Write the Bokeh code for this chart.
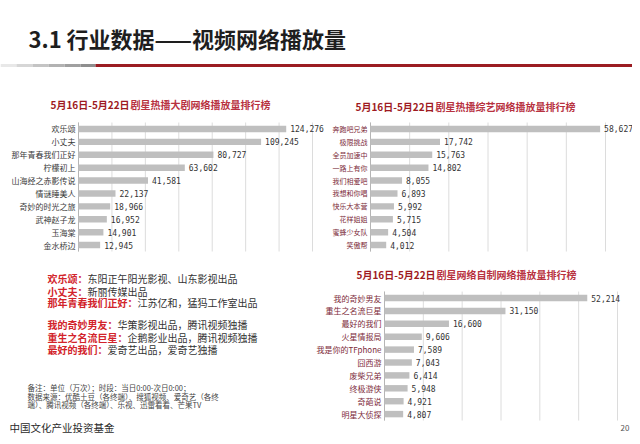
from bokeh.plotting import figure
from bokeh.models import Range1d
from bokeh.embed import file_html
from bokeh.resources import INLINE
from bokeh.core.properties import value

CJK = "Noto Sans CJK SC"
MONO = "DejaVu Sans Mono"

page_title = "3.1 行业数据——视频网络播放量"
period = "5月16日-5月22日 "

drama_title = "剧星热播大剧网络播放量排行榜"
drama_names = ["欢乐颂", "小丈夫", "那年青春我们正好", "柠檬初上", "山海经之赤影传说",
               "情谜睡美人", "奇妙的时光之旅", "武神赵子龙", "玉海棠", "金水桥边"]
drama_views = [124276, 109245, 80727, 63602, 41581, 22137, 18966, 16952, 14901, 12945]

variety_title = "剧星热播综艺网络播放量排行榜"
variety_names = ["奔跑吧兄弟", "极限挑战", "全员加速中", "一路上有你", "我们相爱吧",
                 "我想和你唱", "快乐大本营", "花样姐姐", "蜜蜂少女队", "笑傲帮"]
variety_views = [58627, 17742, 15763, 14802, 8055, 6893, 5992, 5715, 4504, 4012]

web_title = "剧星网络自制网络播放量排行榜"
web_names = ["我的奇妙男友", "重生之名流巨星", "最好的我们", "火星情报局", "我是你的TFphone",
             "囧西游", "废柴兄弟", "终极游侠", "奇葩说", "明星大侦探"]
web_views = [52214, 31150, 16600, 9606, 7589, 7043, 6414, 5948, 4921, 4807]

producer_shows = ["欢乐颂：", "小丈夫：", "那年青春我们正好：", "我的奇妙男友：", "重生之名流巨星：", "最好的我们："]
producer_texts = ["东阳正午阳光影视、山东影视出品", "新丽传媒出品", "江苏亿和，猛犸工作室出品",
                  "华策影视出品，腾讯视频独播", "企鹅影业出品，腾讯视频独播", "爱奇艺出品，爱奇艺独播"]

notes = ["备注：单位（万次）；时段：当日0:00-次日0:00；",
         "数据来源：优酷土豆（各终端）、搜狐视频、爱奇艺（各终",
         "端）、腾讯视频（各终端）、乐视、迅雷看看、芒果TV"]
footer_org = "中国文化产业投资基金"
page_no = "20"

W, H = 632, 436

p = figure(width=W, height=H, x_range=Range1d(0, W), y_range=Range1d(H, 0),
           output_backend="svg", toolbar_location=None,
           x_axis_location=None, y_axis_location=None, min_border=0)
p.title.visible = False
p.outline_line_color = None
p.grid.visible = False
p.background_fill_color = "white"
p.border_fill_color = "white"

# ---- header ----
p.text(x=[28], y=[37], text=[page_title], text_font=value(CJK), text_font_style="bold",
       text_font_size="22px", text_color="#1E1E1E", text_baseline="middle")
grays = ["#E8E8E8", "#D6D6D6", "#C4C4C4", "#B2B2B2", "#A0A0A0", "#8E8E8E"]
gx = [0, 16, 32, 48, 64, 80, 95]
p.quad(left=gx[:-1], right=gx[1:], top=63.5, bottom=66.5, color=grays, line_color=None)
p.quad(left=[95], right=[W], top=63.5, bottom=66.5, color="#9B1C22", line_color=None)

xr, yr = {}, {}


def chart(key, names, views, xmax, step, fx0, fw, fy0, row_h,
          label_color, label_size, title_text, title_x, title_y):
    n = len(names)
    xr[key + "x"] = Range1d(-fx0 / fw * xmax, (W - fx0) / fw * xmax)
    yr[key + "y"] = Range1d((H - fy0) / row_h, -fy0 / row_h)
    kw = dict(x_range_name=key + "x", y_range_name=key + "y")
    idx = list(range(n))
    ticks = list(range(0, xmax + 1, step))
    p.segment(x0=ticks, x1=ticks, y0=-0.5, y1=n - 0.5, line_color="#DCDCDC", line_width=1, **kw)
    p.segment(x0=[0], x1=[0], y0=-0.5, y1=n - 0.5, line_color="#B5B5B5", line_width=1, **kw)
    p.hbar(y=idx, left=0, right=views, height=0.5, fill_color="#BFBFBF", line_color=None, **kw)
    p.text(x=[0] * n, y=idx, text=names, x_offset=-3, text_align="right", text_baseline="middle",
           text_font=value(CJK), text_font_size=f"{label_size}px", text_color=label_color, **kw)
    p.text(x=views, y=idx, text=[f"{v:,}" for v in views], x_offset=4, text_baseline="middle",
           text_font=value(MONO), text_font_size="8px", text_color="#333333", **kw)
    p.text(x=[title_x], y=[title_y], text=[period], text_font=value(CJK), text_font_style="bold",
           text_font_size="10px", text_color="#9E1A22", text_baseline="middle")
    p.text(x=[title_x + 80], y=[title_y], text=[title_text], text_font=value(CJK),
           text_font_style="bold", text_font_size="10px", text_color="#B8323F",
           text_baseline="middle")


chart("c1", drama_names, drama_views, 140000, 20000, 78, 234, 128.45, 12.9,
      "#3A3A3A", 8, drama_title, 50, 104)
chart("c2", variety_names, variety_views, 60000, 10000, 370, 235, 128.45, 12.9,
      "#7D2B3A", 7, variety_title, 355, 106)
chart("c3", web_names, web_views, 60000, 10000, 384, 233, 297.5, 12.9,
      "#7D2B3A", 8, web_title, 356, 273.5)
p.extra_x_ranges = xr
p.extra_y_ranges = yr

# ---- producers ----
line_y = [278.3, 290.7, 302.3, 324.0, 336.7, 349.3]
x0 = 47
fs = 10
p.text(x=[x0] * len(producer_shows), y=line_y, text=producer_shows, text_font=value(CJK),
       text_font_style="bold", text_font_size=f"{fs}px", text_color="#D2232A", text_baseline="middle")
p.text(x=[x0 + len(s) * fs for s in producer_shows], y=line_y, text=producer_texts,
       text_font=value(CJK), text_font_size=f"{fs}px", text_color="#333333", text_baseline="middle")

# ---- notes / footer ----
p.text(x=[27] * len(notes), y=[387.3, 395.7, 404.0], text=notes, text_font=value(CJK),
       text_font_size="7.5px", text_color="#444444", text_baseline="middle")
p.text(x=[9], y=[427], text=[footer_org], text_font=value(CJK),
       text_font_size="10.5px", text_color="#2A2A2A", text_baseline="middle")
p.text(x=[629], y=[427], text=[page_no], text_font=value(CJK), text_font_size="8px",
       text_color="#555555", text_align="right", text_baseline="middle")

open("out.html", "w").write(file_html(p, INLINE))
